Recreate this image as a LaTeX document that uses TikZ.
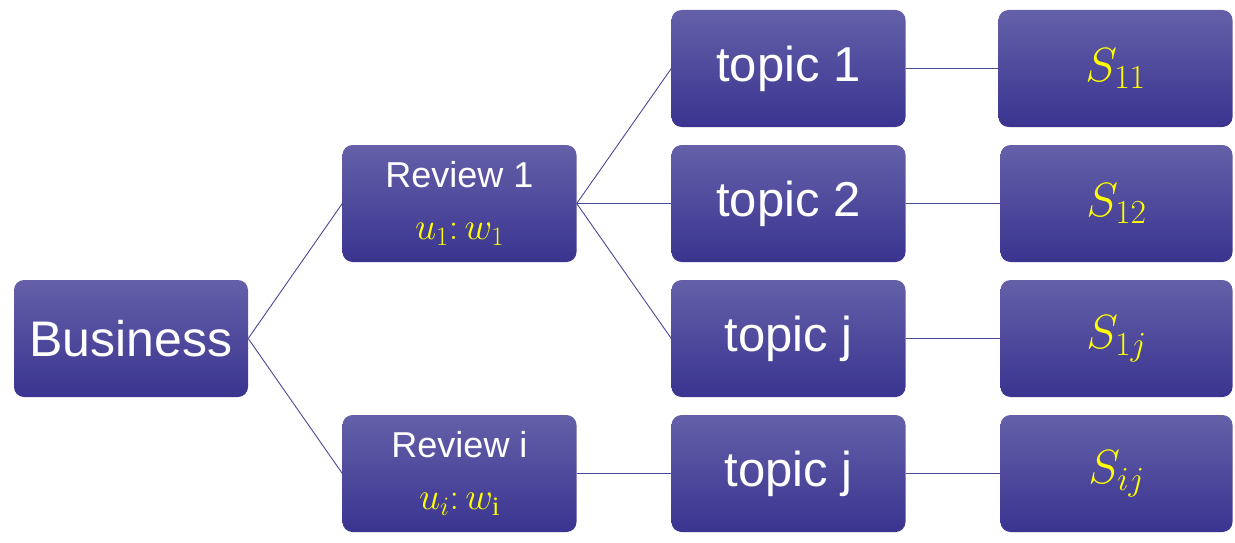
\RequirePackage{fix-cm}
\documentclass[tikz,border=0pt]{standalone}
\usepackage{amsmath}
\usepackage{fontspec}
\setmainfont{Liberation Sans}
\newfontfamily\subserif{Liberation Serif}
\usepackage{xcolor}
\usepackage{tikz}
\usetikzlibrary{positioning}
\definecolor{boxtop}{HTML}{6460A8}
\definecolor{boxbot}{HTML}{3A3490}
\definecolor{linkcolor}{HTML}{4A4898}
\definecolor{mathcolor}{HTML}{FFFF00}

\begin{document}
\begin{tikzpicture}[x=1pt, y=-1pt,
    box/.style={rectangle, rounded corners=10pt, top color=boxtop, bottom color=boxbot, draw=none, text=white, minimum width=234pt, minimum height=117pt, inner sep=0pt, align=center},
    link/.style={draw=linkcolor, line width=0.9pt}
]
\useasboundingbox (0,0) rectangle (1235,543);

% root
\node[box, font=\fontsize{50}{54}\selectfont] (biz) at (131, 338.5) {Business};

% reviews
\node[box, font=\fontsize{36}{40}\selectfont] (rev1) at (459.5, 203.5) {Review 1\\[12pt]{\fontsize{38}{42}\selectfont\textcolor{mathcolor}{$u_1{:}\,w_1$}}};
\node[box, font=\fontsize{36}{40}\selectfont] (revi) at (459.5, 473.5) {Review i\\[12pt]{\fontsize{38}{42}\selectfont\textcolor{mathcolor}{$u_i{:}\,w_{\text{\subserif i}}$}}};

% topics
\node[box, font=\fontsize{49}{53}\selectfont] (top1) at (788.5, 68.5) {topic 1};
\node[box, font=\fontsize{49}{53}\selectfont] (top2) at (788.5, 203.5) {topic 2};
\node[box, font=\fontsize{49}{53}\selectfont] (topj) at (788.5, 338.5) {topic j};
\node[box, font=\fontsize{49}{53}\selectfont] (topij) at (788.5, 473.5) {topic j};

% scores
\node[box, font=\fontsize{48}{52}\selectfont, text=mathcolor] (s11) at (1115.5, 68.5) {$S_{11}$};
\node[box, font=\fontsize{48}{52}\selectfont, text=mathcolor, minimum width=232pt] (s12) at (1116.5, 203.5) {$S_{12}$};
\node[box, font=\fontsize{48}{52}\selectfont, text=mathcolor, minimum width=232pt] (s1j) at (1116.5, 338.5) {$S_{1j}$};
\node[box, font=\fontsize{48}{52}\selectfont, text=mathcolor, minimum width=232pt] (sij) at (1116.5, 473.5) {$S_{ij}$};

% connectors
\draw[link] (biz.east) -- (rev1.west);
\draw[link] (biz.east) -- (revi.west);
\draw[link] (rev1.east) -- (top1.west);
\draw[link] (rev1.east) -- (top2.west);
\draw[link] (rev1.east) -- (topj.west);
\draw[link] (revi.east) -- (topij.west);
\draw[link] (top1.east) -- (s11.west);
\draw[link] (top2.east) -- (s12.west);
\draw[link] (topj.east) -- (s1j.west);
\draw[link] (topij.east) -- (sij.west);

\end{tikzpicture}
\end{document}
